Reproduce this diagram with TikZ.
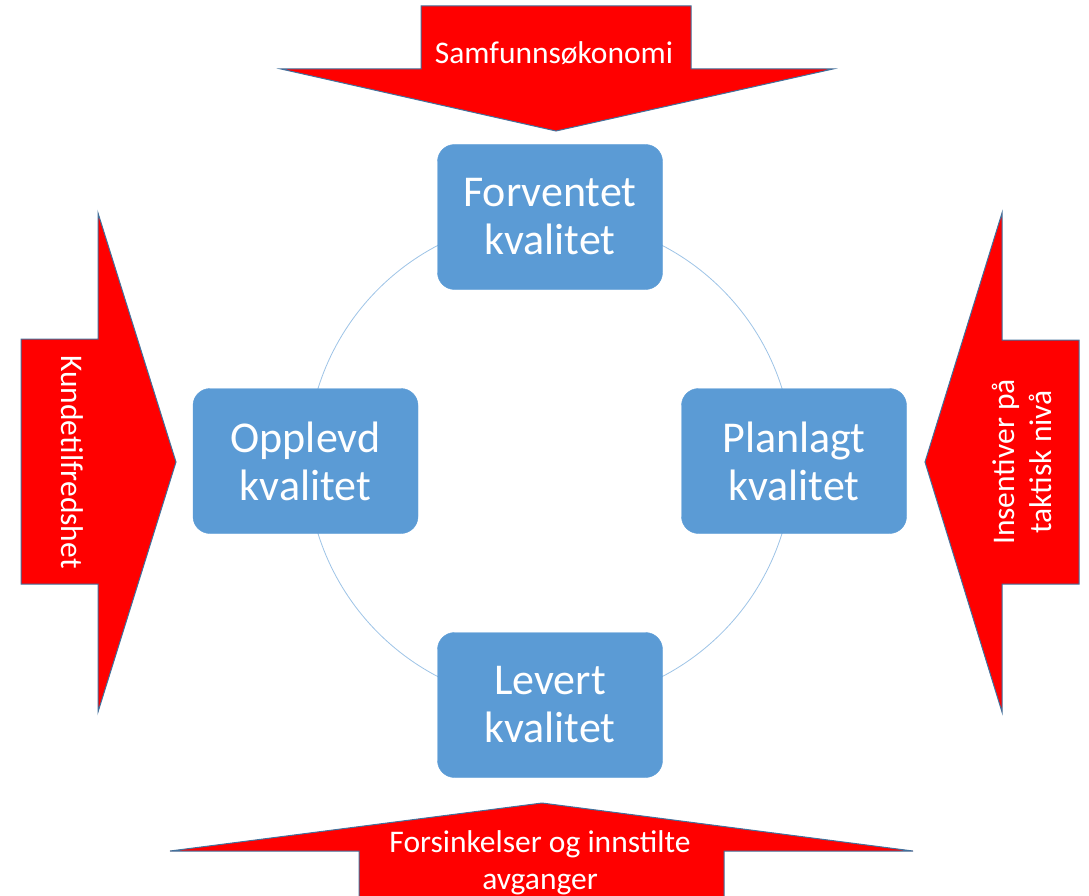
\documentclass[tikz,border=0pt]{standalone}
\usepackage{fontspec}
\setmainfont{Carlito}
\usetikzlibrary{positioning}

\definecolor{boxblue}{HTML}{5B9BD5}
\definecolor{arrowred}{HTML}{FF0000}
\definecolor{edgeblue}{HTML}{41719C}
\definecolor{ringblue}{HTML}{9DC3E6}

\tikzset{
	qualbox/.style={fill=boxblue, draw=boxblue, rounded corners=17pt, minimum width=225pt, minimum height=145pt, inner sep=0pt, text=white, align=center, font=\fontsize{44}{48}\selectfont},
	bigarrow/.style={fill=arrowred, draw=edgeblue, line width=1pt, line join=miter},
	arrowtext/.style={text=white, align=center, inner sep=0pt, font=\fontsize{31.5}{37}\selectfont}
}

\begin{document}
\begin{tikzpicture}[x=1pt,y=-1pt]
	\useasboundingbox (0,0) rectangle (1089,896); % Fixes the page...
	
		\coordinate (Centre) at (550,461);
		\draw[ringblue, line width=0.8pt] (Centre) circle[radius=243pt];% Ring behind the boxes
		
		\node[qualbox] (Forventet) at (550,217)   {Forventet\\kvalitet};
		\node[qualbox] (Opplevd)   at (305.5,461) {Opplevd\\kvalitet};
		\node[qualbox] (Planlagt)  at (794,461)   {Planlagt\\kvalitet};
		\node[qualbox] (Levert)    at (550,705)   {Levert\\kvalitet};
		
		\draw[bigarrow] (421,6) -- (691,6) -- (691,69) -- (833,69) -- (556,131) -- (281,69) -- (421,69) -- cycle;% Top arrow
		\draw[bigarrow] (21,339) -- (98,339) -- (98,213) -- (176,462) -- (98,712) -- (98,584) -- (21,584) -- cycle;% Left arrow
		\draw[bigarrow] (1079,340) -- (1002,340) -- (1002,213) -- (925,462) -- (1002,712) -- (1002,584) -- (1079,584) -- cycle;% Right arrow
		\draw[bigarrow] (359,905) -- (359,851) -- (170,851) -- (542,803) -- (913,851) -- (724,851) -- (724,905) -- cycle;% Bottom arrow
		
		\node[arrowtext] (Samf) at (554,53) {Samfunnsøkonomi};
		\node[arrowtext, rotate=-90] (Kunde) at (72,462) {Kundetilfredshet};
		\node[arrowtext, rotate=90] (Insent) at (1022,462) {Insentiver på\\taktisk nivå};
		\node[arrowtext] (Forsink) at (540,863) {Forsinkelser og innstilte\\avganger};
	\end{tikzpicture}
\end{document}
